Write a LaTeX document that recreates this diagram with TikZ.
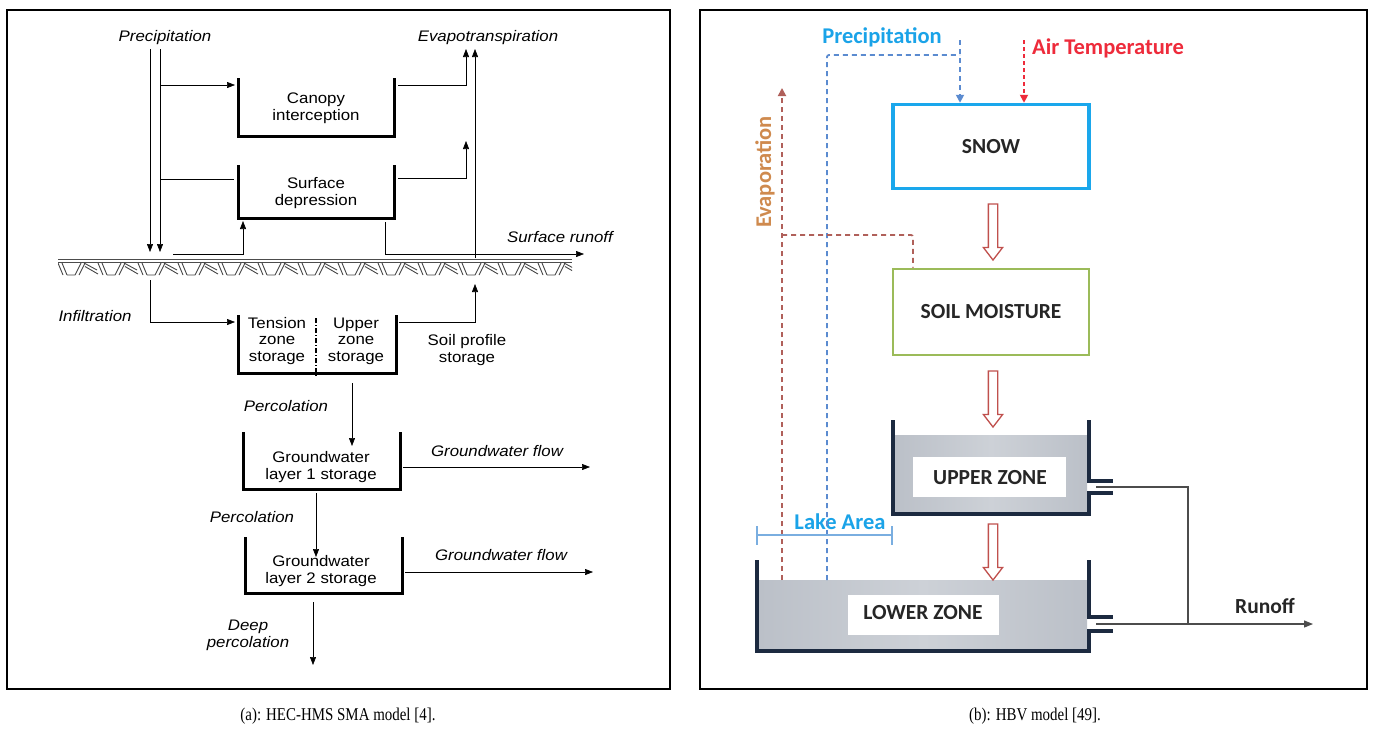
\documentclass[tikz,border=0pt]{standalone}
\usepackage{fontspec}
\setmainfont{Liberation Serif}
\newfontfamily\capfont[FakeStretch=0.83]{Liberation Serif}
\newfontfamily\arial[FakeStretch=1.1]{Liberation Sans}
\newfontfamily\calibri{Carlito}
\usetikzlibrary{arrows.meta,shapes.arrows}
\definecolor{precblue}{HTML}{1AA3E8}
\definecolor{precline}{HTML}{5B8BD0}
\definecolor{airred}{HTML}{EE2B3B}
\definecolor{evaptxt}{HTML}{CF8A4E}
\definecolor{evapline}{HTML}{B0605A}
\definecolor{snowblue}{HTML}{1AA7EC}
\definecolor{soilgreen}{HTML}{9BBB59}
\definecolor{harrow}{HTML}{C0504D}
\definecolor{tankc}{HTML}{1C2A40}
\definecolor{waterc}{HTML}{BBC0C8}
\definecolor{waterl}{HTML}{CDD1D7}
\definecolor{lakec}{HTML}{7AAEE0}
\tikzset{
  lbl/.style={font=\arial\itshape\fontsize{15.3}{17}\selectfont, inner sep=0pt},
  txt/.style={font=\arial\fontsize{15.3}{16.5}\selectfont, align=center, inner sep=0pt},
  ubox/.style={line width=3pt},
  flow/.style={line width=0.6pt, -{Triangle[length=8pt,width=6pt]}},
  thinln/.style={line width=0.6pt},
  hb/.style={font=\calibri\bfseries\fontsize{21.5}{24}\selectfont, inner sep=0pt, text=black!85},
  rlbl/.style={font=\calibri\bfseries\fontsize{22.5}{24}\selectfont, inner sep=0pt},
  hollow/.style={single arrow, draw=harrow, fill=white, line width=1.3pt, rotate=-90,
    minimum height=56pt, inner sep=4pt, single arrow head extend=5pt, single arrow tip angle=75},
  tank/.style={draw=tankc, line width=3.5pt},
  water/.style={left color=waterc, right color=waterc, middle color=waterl},
  dprec/.style={precline, line width=1.8pt, dash pattern=on 5pt off 4pt},
  devap/.style={evapline, line width=1.8pt, dash pattern=on 5pt off 4pt},
  hatch/.style={gray!55!black, line width=0.9pt},
  captxt/.style={font=\capfont\fontsize{18}{20}\selectfont, inner sep=0pt}
}
\begin{document}
\begin{tikzpicture}[x=1pt,y=-1pt]
\useasboundingbox (0,0) rectangle (1373,729);
\fill[white] (0,0) rectangle (1373,729);
% frames
\draw[line width=1.5pt] (7,10) rectangle (670,689);
\draw[line width=1.5pt] (700,10) rectangle (1367,689);

% ================= LEFT PANEL =================
\node[lbl] (prec) at (165,38) {Precipitation};
\node[lbl] (evap) at (488,38) {Evapotranspiration};
\node[lbl] (sro) at (560,237) {Surface runoff};
\node[lbl] (infl) at (95,316) {Infiltration};
\node[lbl] (perc1) at (286,406) {Percolation};
\node[lbl] (perc2) at (252,517) {Percolation};
\node[lbl] (gwf1) at (497,451) {Groundwater flow};
\node[lbl] (gwf2) at (501,555) {Groundwater flow};
\node[lbl, align=center] (deep) at (248,635) {Deep\\percolation};

% boxes
\draw[ubox] (238,78) -- (238,136) -- (394,136) -- (394,78);
\node[txt] (canopy) at (316,108) {Canopy\\interception};
\draw[ubox] (238,165) -- (238,218) -- (394,218) -- (394,165);
\node[txt] (surf) at (316,193) {Surface\\depression};
\draw[ubox] (238,315) -- (238,373) -- (396,373) -- (396,315);
\draw[line width=1.2pt, dash pattern=on 5pt off 2pt on 1pt off 2pt] (316,318) -- (316,376);
\node[txt] (tens) at (277,341) {Tension\\zone\\storage};
\node[txt] (uppr) at (356,341) {Upper\\zone\\storage};
\node[txt] (spro) at (467,350) {Soil profile\\storage};
\draw[ubox] (243,432) -- (243,489) -- (400,489) -- (400,432);
\node[txt] (gw1) at (321,467) {Groundwater\\layer 1 storage};
\draw[ubox] (245,537) -- (245,593) -- (402,593) -- (402,537);
\node[txt] (gw2) at (321,571) {Groundwater\\layer 2 storage};

% ground surface
\draw[gray!60!black, line width=0.8pt] (58,259.5) -- (572,259.5);
\draw[gray!60!black, line width=0.8pt] (58,262) -- (572,262);
\begin{scope}
\clip (58,258) rectangle (572,278);
\foreach \x in {58,98,...,560}{
  \draw[hatch] (\x,263) -- (\x+5,275) (\x+4,263) -- (\x+9,275)
        (\x+9,275) -- (\x+17,275)
        (\x+17,275) -- (\x+23,263) (\x+21,275) -- (\x+27,263)
        (\x+26,263) -- (\x+39,270) (\x+27,266.5) -- (\x+40,274);
}
\end{scope}

% connectors
\draw[flow] (prec.south -| 150,0) ++(0,4) -- (150,252);
\draw[flow] (prec.south -| 160,0) ++(0,4) -- (160,252);
\draw[flow] (160,85) -- (235,85);
\draw[thinln] (160,179) -- (234,179);
\draw[flow] (398,85) -| (466,49);
\draw[flow] (475,258) -- (475,49);
\draw[flow] (398,178) -| (466,141);
\draw[flow] (173,254) -| (243,221);
\draw[flow] (385,222) |- (584,254);
\draw[flow] (150,280) |- (235,322);
\draw[flow] (399,322) -| (475,284);
\draw[flow] (352,383) -- (352,446);
\draw[flow] (403,467) -- (590,467);
\draw[flow] (316,493) -- (316,557);
\draw[flow] (405,572) -- (593,572);
\draw[flow] (313,602) -- (313,665);

% ================= RIGHT PANEL =================
% tanks water
\fill[water] (895,435) rectangle (1087,512);
\fill[water] (759,580) rectangle (1087,649);
\fill[white] (913,457) rectangle (1066,497);
\fill[white] (848,595) rectangle (999,635);
\node[hb] (uz) at (990,478) {UPPER ZONE};
\node[hb] (lz) at (923,613) {LOWER ZONE};
\draw[tank] (893,420) -- (893,514) -- (1089,514) -- (1089,493) -- (1113,493);
\draw[tank] (1089,420) -- (1089,481) -- (1113,481);
\draw[tank] (757,560) -- (757,651) -- (1089,651) -- (1089,631) -- (1113,631);
\draw[tank] (1089,560) -- (1089,617) -- (1113,617);
% outlets
\coordinate (o1) at (1096,487);
\coordinate (o2) at (1096,624);
\coordinate (rend) at (1313,624);
\draw[gray!60!black, line width=1.2pt] (o1) -| (1188,624);
\draw[gray!60!black, line width=1.2pt, -{Triangle[length=9pt,width=7pt]}] (o2) -- (rend);
\node[hb] (runoff) at (1265,606) {Runoff};

% snow, soil
\node[draw=snowblue, line width=3.5pt, minimum width=196pt, minimum height=84pt, inner sep=0pt] (snow) at (991,146.5) {};
\node[hb] at (snow.center) {SNOW};
\node[draw=soilgreen, line width=2.8pt, minimum width=196pt, minimum height=86pt, inner sep=0pt] (soil) at (991,312) {};
\node[hb] at (soil.center) {SOIL MOISTURE};

% hollow arrows
\node[hollow] (h1) at (993,229) {};
\node[hollow] (h2) at (993,396) {};
\node[hollow] (h3) at (993,549) {};

% labels
\node[rlbl, text=precblue] (ptxt) at (882,37) {Precipitation};
\node[rlbl, text=airred, anchor=west] (atxt) at (1032,48) {Air Temperature};
\node[rlbl, text=evaptxt, rotate=90] (etxt) at (765,172) {Evaporation};
\node[rlbl, text=precblue] (lake) at (840,522) {Lake Area};

% dashed lines
\draw[dprec, rounded corners=2pt] (827,580) -- (827,55) -- (960,55);
\draw[dprec, -{Triangle[length=8pt,width=8pt]}] (960,40) -- (snow.north -| 960,0);
\draw[airred, line width=1.8pt, dash pattern=on 4pt off 3pt, -{Triangle[length=8pt,width=8pt]}] (1024,40) -- (snow.north -| 1024,0);
\draw[devap, -{Triangle[length=8pt,width=8pt]}] (782,580) -- (782,88);
\draw[devap, rounded corners=2pt] (782,235) -- (913,235) -- (soil.north -| 913,0);

% lake area bar
\draw[lakec, line width=1.3pt] (757,535) -- (892,535);
\draw[lakec, line width=1.3pt] (757,526) -- (757,545);
\draw[lakec, line width=1.3pt] (892,526) -- (892,545);

% captions
\node[captxt] (capa) at (338,716) {(a): HEC-HMS SMA model [4].};
\node[captxt] (capb) at (1035,716) {(b): HBV model [49].};
\end{tikzpicture}
\end{document}
